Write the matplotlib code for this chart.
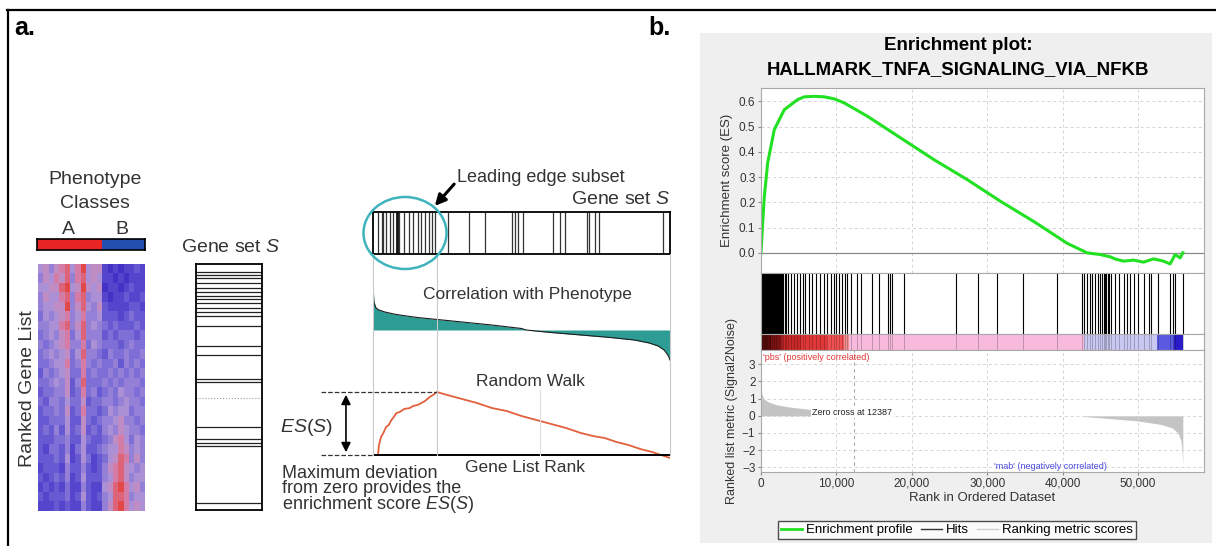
import numpy as np
import matplotlib
matplotlib.use("Agg")
import matplotlib.pyplot as plt
from matplotlib.colors import LinearSegmentedColormap
from matplotlib.patches import Ellipse, Rectangle
from matplotlib.lines import Line2D

plt.rcParams['font.family'] = ['Liberation Sans', 'DejaVu Sans']
plt.rcParams['mathtext.fontset'] = 'custom'
plt.rcParams['mathtext.rm'] = 'Liberation Sans'
plt.rcParams['mathtext.it'] = 'Liberation Sans:italic'

W, H = 1216, 546

# ---- panel a data ----
# heatmap rows (top = highest rank), 12 columns class A + 8 columns class B, 0 = blue .. 9 = red
heat_rows = [
    "56467857956610101121", "46576847856511010111", "55668956965601101211",
    "46557847845510112112", "45566946854621111221", "35456745744522212322",
    "44557846845432322232", "34546735844423233323", "43456744735433323433",
    "34545635844324334334", "33455734743433424343", "24345633734334343434",
    "33454624833343434443", "23344623734234354434", "32443533623344345443",
    "23343623733235455344", "22333522632344564434", "23242523623245465443",
    "22233422532234675354", "21332413522345576454", "22232512531235687464",
    "12221422421246786545", "21232412522245786455", "12121311421156897564",
    "21222312521245887455", "11121211421146897565",
]
# gene set S members, % of ranked list (vertical box)
gs_a_ranks = [3.1, 4.5, 5.7, 7.8, 9.6, 11.3, 12.9, 14.2, 15.9, 17.9, 19.5, 21.0,
              25.1, 33.2, 37.0, 46.9, 48.1, 66.1, 71.3, 72.6, 74.0, 97.0]
# gene set S members, % of ranked list (horizontal box)
gs_b_ranks = [1.8, 2.9, 3.5, 4.4, 5.7, 6.6, 8.0, 8.9, 10.4, 12.2, 13.6, 15.3, 16.2,
              17.5, 18.9, 19.8, 20.9, 25.4, 32.4, 37.7, 46.9, 47.8, 48.9, 50.6,
              60.5, 63.0, 64.6, 72.0, 72.8, 74.7, 76.1, 97.7]
# correlation with phenotype
corr_rank = [0, 0.3, 1, 2, 4, 7, 10, 15, 20, 30, 40, 50, 51.5, 60, 70, 80, 88, 93, 96, 98, 99.3, 100]
corr_value = [45, 28, 22, 20, 18, 16, 14.5, 12.5, 11, 8, 5, 1.5, 0, -2.5, -5, -7.5, -10, -13, -16, -20, -25, -30]
# random walk
rw_rank = [1.7, 2.0, 2.7, 3.5, 4.4, 5.3, 6.2, 7.0, 7.9, 9.0, 10.5, 12.4, 13.5, 15.0,
           16.3, 17.5, 19.1, 20.2, 21.5, 25, 30, 35, 40, 45, 50, 55, 60, 65, 70, 74,
           78, 82, 86, 90, 94, 97, 100]
rw_value = [0, 10, 18, 22, 28, 30, 35, 38, 42, 43, 46, 47, 49, 50, 52, 54, 58, 60, 63,
            60, 56, 52, 47, 44, 39, 35, 31, 27, 22, 19, 17, 13, 10, 6, 3, 0, -3]

# ---- panel b data ----
es_rank = [0, 221, 441, 882, 1323, 1764, 2426, 3087, 3969, 4851, 5733, 7056, 8379,
           9702, 11025, 14112, 18522, 22932, 27342, 31752, 36162, 40572, 43218,
           44982, 46305, 47000, 48069, 49392, 50715, 52038, 53361, 54243, 54904,
           55566, 55919]
es_value = [0.0, 0.118, 0.223, 0.356, 0.422, 0.488, 0.528, 0.567, 0.587, 0.607,
            0.618, 0.620, 0.618, 0.610, 0.594, 0.541, 0.455, 0.369, 0.290, 0.204,
            0.124, 0.038, 0.0, -0.007, -0.016, -0.025, -0.033, -0.029, -0.037,
            -0.024, -0.033, -0.044, -0.007, -0.020, 0.0]
hits = [0, 60, 120, 180, 240, 300, 370, 440, 500, 570, 640, 700, 780, 850, 920,
        1000, 1080, 1150, 1230, 1310, 1400, 1480, 1570, 1660, 1750, 1850, 1950,
        2050, 2160, 2270, 2380, 2500, 2650, 2800, 2950, 3150, 3350,
        3616, 3969, 4410, 4763, 5204, 5512, 5821, 6394, 6747, 7276, 7850, 8379,
        8732, 9261, 9614, 9922, 10363, 10804, 11113, 11466, 11995, 12789, 13230,
        14685, 15656, 16846, 17111, 17420, 18963, 25799, 28753, 31223, 34751,
        39249, 42557, 42865, 43218, 43571, 43880, 44232, 44629, 44982, 45250,
        45423, 45644, 45800, 45952, 46100, 46393, 46966, 47408, 48069, 48510,
        48951, 49392, 49921, 50715, 51377, 51685, 52567, 54243, 54596, 54904, 55919]
band_start = [0, 1300, 2650, 5300, 8800, 11000, 11700, 42800, 52500, 54700]
band_end = [1300, 2650, 5300, 8800, 11000, 11700, 42800, 52500, 54700, 55920]
band_color = ['#7a1010', '#a01818', '#c82828', '#e03838', '#f05050', '#f49090',
              '#f7b9dc', '#c8c8f2', '#5a5ae0', '#2a1ac8']
metric_rank = [0, 100, 250, 500, 1000, 2000, 3000, 4000, 5000, 6000, 6800, 7500,
               9000, 12387, 42800, 43000, 46000, 50000, 53000, 54500, 55300, 55700,
               55850, 55920]
metric_value = [1.6, 1.3, 1.1, 0.95, 0.8, 0.65, 0.57, 0.5, 0.45, 0.4, 0.35, 0.2,
                0.05, 0.0, 0.0, -0.05, -0.15, -0.3, -0.5, -0.7, -1.0, -1.5, -2.2, -2.9]
zero_cross = 12387
x_max = 58730

fig = plt.figure(figsize=(W / 100, H / 100), dpi=100)


def px_axes(x, y, w, h, **kw):
    return fig.add_axes([x / W, 1 - (y + h) / H, w / W, h / H], **kw)


# background layer: frame and grey panel
bg = px_axes(0, 0, W, H, zorder=-10)
bg.set_xlim(0, W)
bg.set_ylim(H, 0)
bg.axis('off')
bg.add_patch(Rectangle((700, 33), 512, 510, color='#efefef', lw=0))
bg.plot([7, W], [9.5, 9.5], color='black', lw=1.6)
bg.plot([7.5, 7.5], [9.5, H], color='black', lw=1.6)

# ---- panel a ----
cmap = LinearSegmentedColormap.from_list(
    'gsea', ['#4232c6', '#6456d2', '#8c7cd8', '#b496d6', '#d87aa0', '#e24848'])
heat = np.array([[int(c) for c in row] for row in heat_rows])
ax_h = px_axes(38, 264, 107, 247)
ax_h.imshow(heat, cmap=cmap, vmin=0, vmax=9, aspect='auto', interpolation='nearest')
ax_h.axis('off')

ax_p = px_axes(37, 239, 108, 11)
ax_p.barh(0, 12, left=0, height=1, color='#e82424')
ax_p.barh(0, 8, left=12, height=1, color='#2350b0')
ax_p.set_xlim(0, 20)
ax_p.set_ylim(-0.5, 0.5)
ax_p.set_xticks([])
ax_p.set_yticks([])
for s in ax_p.spines.values():
    s.set_linewidth(1.2)

ax_ga = px_axes(196, 264, 66, 246)
ax_ga.hlines(gs_a_ranks, 0, 1, color='#222222', lw=0.9)
ax_ga.hlines([54.5], 0, 1, color='#999999', lw=0.8, linestyles=':')
ax_ga.set_xlim(0, 1)
ax_ga.set_ylim(100, 0)
ax_ga.set_xticks([])
ax_ga.set_yticks([])
for s in ax_ga.spines.values():
    s.set_linewidth(1.3)

ax_gb = px_axes(373, 212, 297, 42)
ax_gb.vlines(gs_b_ranks, 0, 1, color='#333333', lw=0.9)
ax_gb.vlines([8.0], 0, 1, color='#111111', lw=2.0)
ax_gb.set_xlim(0, 100)
ax_gb.set_ylim(0, 1)
ax_gb.set_xticks([])
ax_gb.set_yticks([])
for s in ax_gb.spines.values():
    s.set_linewidth(1.3)

ax_c = px_axes(373, 280, 297, 85)
ax_c.fill_between(corr_rank, corr_value, 0, color='#2d9c94', lw=0)
ax_c.plot(corr_rank, corr_value, color='#1d1d1d', lw=0.8)
ax_c.set_xlim(0, 100)
ax_c.set_ylim(-35, 50)
ax_c.axis('off')

ax_r = px_axes(373, 385, 297, 75)
ax_r.plot(rw_rank, rw_value, color='#e2603c', lw=1.3)
ax_r.plot([0, 100], [0, 0], color='black', lw=1.4)
peak = max(rw_value)
peak_rank = rw_rank[rw_value.index(peak)]
ax_r.plot([-17.5, peak_rank], [peak, peak], color='#333333', lw=0.9, ls='--', clip_on=False)
ax_r.plot([-17.5, 0], [0, 0], color='#333333', lw=0.9, ls='--', clip_on=False)
ax_r.annotate('', xy=(-9.1, peak), xytext=(-9.1, 0), annotation_clip=False,
              arrowprops=dict(arrowstyle='<|-|>', color='black', lw=1.2, mutation_scale=14))
ax_r.set_xlim(0, 100)
ax_r.set_ylim(-5, 70)
ax_r.axis('off')

# ---- panel b ----
grid_kw = dict(color='#d4d4d4', lw=0.7, ls=(0, (3, 3)))
frame_col = '#a8a8a8'
xt = [0, 10000, 20000, 30000, 40000, 50000]

ax_es = px_axes(761, 88, 443, 185)
ax_es.set_xlim(0, x_max)
ax_es.set_ylim(-0.08, 0.653)
ax_es.grid(True, **grid_kw)
ax_es.axhline(0, color='#888888', lw=0.9)
ax_es.plot(es_rank, es_value, color='#22e022', lw=2.2)
ax_es.set_xticks(xt)
ax_es.set_xticklabels([])
ax_es.set_yticks([0.0, 0.1, 0.2, 0.3, 0.4, 0.5, 0.6])
ax_es.set_yticklabels(['0.0', '0.1', '0.2', '0.3', '0.4', '0.5', '0.6'])
ax_es.tick_params(axis='x', length=0)
ax_es.tick_params(axis='y', length=2, labelsize=8.5, labelcolor='#333333', color='#888888', pad=2)
ax_es.set_ylabel('Enrichment score (ES)', fontsize=9.5, color='#333333', labelpad=4)

ax_hit = px_axes(761, 273, 443, 61)
ax_hit.vlines(hits, 0, 1, color='black', lw=0.8)
ax_hit.set_xlim(0, x_max)
ax_hit.set_ylim(0, 1)
ax_hit.set_xticks([])
ax_hit.set_yticks([])

ax_band = px_axes(761, 334, 443, 16)
for s0, s1, c in zip(band_start, band_end, band_color):
    ax_band.axvspan(s0, s1, color=c, lw=0)
ax_band.vlines(hits, 0, 1, color='black', lw=0.6, alpha=0.25)
ax_band.set_xlim(0, x_max)
ax_band.set_ylim(0, 1)
ax_band.set_xticks([])
ax_band.set_yticks([])

ax_m = px_axes(761, 350, 443, 122)
ax_m.set_xlim(0, x_max)
ax_m.set_ylim(-3.27, 3.83)
ax_m.grid(True, **grid_kw)
ax_m.fill_between(metric_rank, metric_value, 0, color='#c4c4c4', lw=0)
ax_m.axvline(zero_cross, color='#aaaaaa', lw=0.8, ls=(0, (3, 3)))
ax_m.set_xticks(xt)
ax_m.set_xticklabels(['0', '10,000', '20,000', '30,000', '40,000', '50,000'])
ax_m.set_yticks([-3, -2, -1, 0, 1, 2, 3])
ax_m.tick_params(axis='x', length=2, labelsize=8.5, labelcolor='#333333', color='#888888', pad=2)
ax_m.tick_params(axis='y', length=2, labelsize=8.5, labelcolor='#333333', color='#888888', pad=2)
ax_m.set_xlabel('Rank in Ordered Dataset', fontsize=9.5, color='#333333', labelpad=2)
ax_m.set_ylabel('Ranked list metric (Signal2Noise)', fontsize=9, color='#333333', labelpad=3)
ax_m.text(300, 3.38, "'pbs' (positively correlated)", color='#e03535', fontsize=6.5, va='center')
ax_m.text(38400, -2.97, "'mab' (negatively correlated)", color='#4a4ae0', fontsize=6.5,
          va='center', ha='center')
ax_m.text(6700, 0.2, 'Zero cross at 12387', fontsize=6.5, va='center', color='#222222',
          bbox=dict(facecolor='white', edgecolor='none', pad=0.5))

for a in (ax_es, ax_hit, ax_band, ax_m):
    for s in a.spines.values():
        s.set_color(frame_col)
        s.set_linewidth(0.8)

handles = [Line2D([], [], color='#22e022', lw=2),
           Line2D([], [], color='#333333', lw=1),
           Line2D([], [], color='#d0d0d0', lw=1)]
leg = fig.legend(handles, ['Enrichment profile', 'Hits', 'Ranking metric scores'],
                 loc='center', bbox_to_anchor=(957 / W, 1 - 530 / H), ncol=3,
                 fontsize=9.5, frameon=True, fancybox=False, handlelength=1.6,
                 handletextpad=0.3, columnspacing=0.6, borderpad=0.25)
leg.get_frame().set_edgecolor('#222222')
leg.get_frame().set_linewidth(1.0)

# ---- annotations layer ----
ov = px_axes(0, 0, W, H, zorder=10)
ov.set_xlim(0, W)
ov.set_ylim(H, 0)
ov.axis('off')
ov.patch.set_alpha(0)

ov.text(14, 28, 'a.', fontsize=18, fontweight='bold', va='center')
ov.text(648, 28, 'b.', fontsize=18, fontweight='bold', va='center')
ov.text(95, 180, 'Phenotype', fontsize=14, ha='center', va='center', color='#333333')
ov.text(95, 203, 'Classes', fontsize=14, ha='center', va='center', color='#333333')
ov.text(68, 229, 'A', fontsize=14, ha='center', va='center', color='#333333')
ov.text(122, 229, 'B', fontsize=14, ha='center', va='center', color='#333333')
ov.text(28, 389, 'Ranked Gene List', fontsize=14, rotation=90, ha='center', va='center',
        color='#333333')
ov.text(231, 248, 'Gene set $S$', fontsize=14, ha='center', va='center', color='#333333')

ov.add_patch(Ellipse((405, 233), 83, 72, fill=False, edgecolor='#3fb4bc', lw=1.8))
ov.annotate('', xy=(433, 208), xytext=(456, 182),
            arrowprops=dict(arrowstyle='-|>', color='black', lw=2.2, mutation_scale=16))
ov.text(457, 178, 'Leading edge subset', fontsize=13, va='center', color='#333333')
ov.text(670, 200, 'Gene set $S$', fontsize=14, ha='right', va='center', color='#333333')
ov.text(527, 295, 'Correlation with Phenotype', fontsize=12.5, ha='center', va='center',
        color='#333333')
ov.text(530, 382, 'Random Walk', fontsize=12.5, ha='center', va='center', color='#333333')
ov.text(525, 468, 'Gene List Rank', fontsize=12.5, ha='center', va='center', color='#333333')
ov.text(306, 427, '$ES(S)$', fontsize=14, ha='center', va='center', color='#333333')
ov.text(282, 490, 'Maximum deviation\nfrom zero provides the\nenrichment score $ES(S)$',
        fontsize=13, ha='left', va='center', linespacing=0.85, color='#333333')
for xv in (373, 437, 670):
    ov.plot([xv, xv], [254, 455], color='#c8c8c8', lw=0.8, zorder=0)
ov.plot([540, 540], [390, 455], color='#dddddd', lw=0.8, zorder=0)

ov.text(958, 46, 'Enrichment plot:', fontsize=13.5, fontweight='bold', ha='center', va='center')
ov.text(958, 70, 'HALLMARK_TNFA_SIGNALING_VIA_NFKB', fontsize=13.4, fontweight='bold',
        ha='center', va='center')

fig.savefig('out.png', dpi=100)
